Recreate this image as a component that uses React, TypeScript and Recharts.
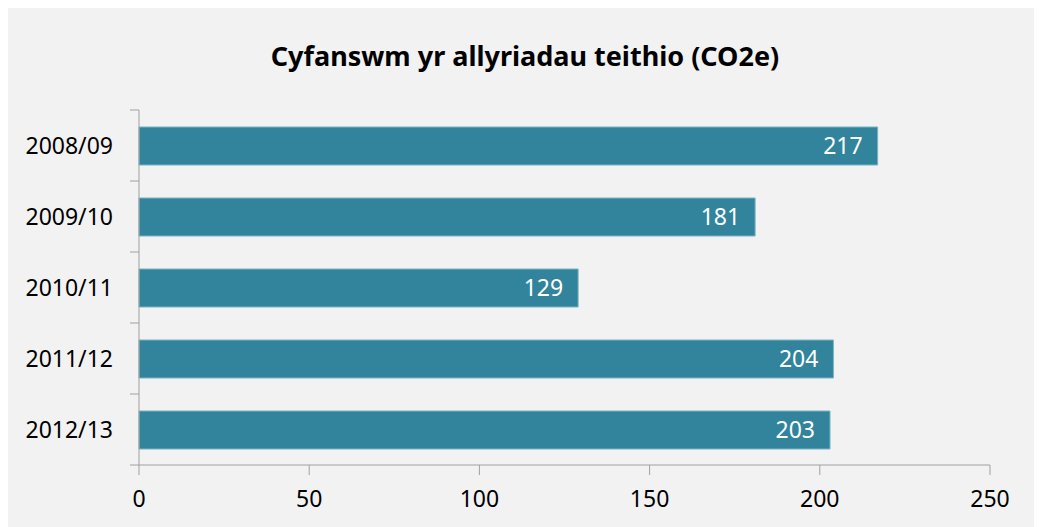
import { BarChart, Bar, XAxis, YAxis, LabelList } from "recharts";

const years = ["2008/09", "2009/10", "2010/11", "2011/12", "2012/13"];
const emissions = [217, 181, 129, 204, 203];
const xTicks = [0, 50, 100, 150, 200, 250];

const data = years.map((year, i) => ({ year, value: emissions[i] }));

const FONT = "'Noto Sans', sans-serif";
const AXIS = "#a0a0a0";

function YearTick(props: any) {
  const { x, y, payload, index } = props;
  const half = payload?.offset ?? 35.5;
  return (
    <g>
      <line x1={x - 9} x2={x} y1={y - half} y2={y - half} stroke={AXIS} />
      {index === years.length - 1 && (
        <line x1={x - 9} x2={x} y1={y + half} y2={y + half} stroke={AXIS} />
      )}
      <text
        x={x - 26}
        y={y}
        dy="0.35em"
        textAnchor="end"
        fontSize={23}
        fontFamily={FONT}
        fill="#000"
      >
        {payload.value}
      </text>
    </g>
  );
}

export default function App() {
  return (
    <div style={{ position: "relative", width: 1034, height: 519, background: "#f2f2f2" }}>
      <div
        style={{
          position: "absolute",
          top: 29,
          left: 0,
          width: "100%",
          textAlign: "center",
          fontFamily: FONT,
          fontWeight: 700,
          fontSize: 27,
          color: "#000",
        }}
      >
        Cyfanswm yr allyriadau teithio (CO2e)
      </div>
      <BarChart
        width={1034}
        height={519}
        data={data}
        layout="vertical"
        margin={{ top: 102, right: 52, left: 0, bottom: 12 }}
      >
        <XAxis
          type="number"
          domain={[0, 250]}
          ticks={xTicks}
          interval={0}
          height={50}
          stroke={AXIS}
          tickSize={10}
          tickMargin={16}
          tick={{ fill: "#000", fontSize: 23, fontFamily: FONT }}
        />
        <YAxis
          type="category"
          dataKey="year"
          width={131}
          stroke={AXIS}
          tickLine={false}
          tickSize={0}
          tickMargin={0}
          tick={<YearTick />}
        />
        <Bar
          dataKey="value"
          fill="#31849b"
          stroke="#7ab4c4"
          strokeWidth={1}
          barSize={38}
          isAnimationActive={false}
        >
          <LabelList
            dataKey="value"
            position="insideRight"
            offset={15}
            fill="#fff"
            fontSize={23}
            fontFamily={FONT}
          />
        </Bar>
      </BarChart>
    </div>
  );
}
